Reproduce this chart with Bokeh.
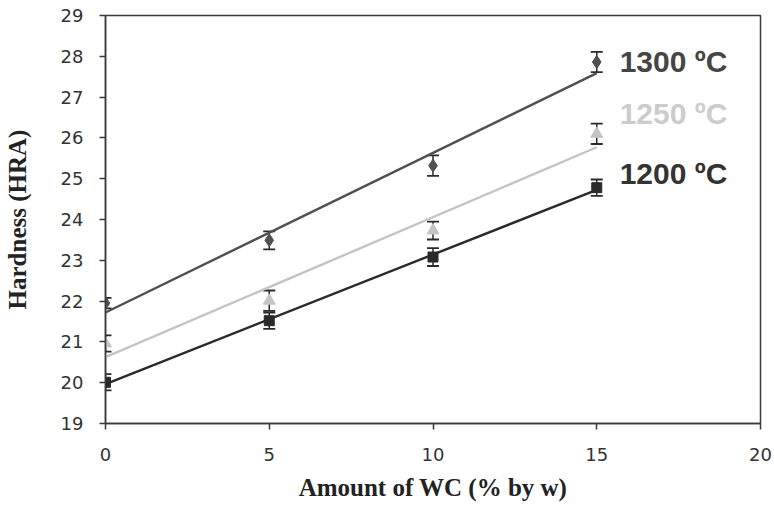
import numpy as np
from bokeh.plotting import figure
from bokeh.models import ColumnDataSource, Whisker, Label, FixedTicker, Range1d, TeeHead
from bokeh.embed import file_html
from bokeh.resources import INLINE

# ---- data ----
wc = [0, 5, 10, 15]
h1300 = [21.95, 23.49, 25.32, 27.86]
h1250 = [20.96, 22.01, 23.73, 26.10]
h1200 = [20.01, 21.52, 23.08, 24.78]
e1300 = [0.13, 0.22, 0.25, 0.25]
e1250 = [0.20, 0.25, 0.22, 0.25]
e1200 = [0.20, 0.20, 0.22, 0.20]
series_names = ["1300 ºC", "1250 ºC", "1200 ºC"]
x_ticks = [0, 5, 10, 15, 20]
y_ticks = list(range(19, 30))

p = figure(width=774, height=523, output_backend="svg", toolbar_location=None,
           x_range=Range1d(0, 20), y_range=Range1d(19, 29),
           min_border_left=105, min_border_top=15, min_border_right=14, min_border_bottom=100)
p.background_fill_color = "white"
p.border_fill_color = "white"
p.xgrid.visible = False
p.ygrid.visible = False
p.outline_line_color = "#3a3a3a"
p.outline_line_width = 1.5

for ax in (p.xaxis[0], p.yaxis[0]):
    ax.axis_line_color = "#3a3a3a"
    ax.axis_line_width = 1.5
    ax.major_tick_line_color = "#3a3a3a"
    ax.major_tick_line_width = 1.5
    ax.major_tick_out = 6
    ax.major_tick_in = 0
    ax.minor_tick_out = 0
    ax.minor_tick_in = 0
    ax.major_label_text_font = "DejaVu Sans"
    ax.major_label_text_font_size = "18px"
    ax.major_label_text_color = "#333333"
    ax.axis_label_text_font = "Liberation Serif"
    ax.axis_label_text_font_style = "bold"
    ax.axis_label_text_font_size = "25px"
    ax.axis_label_text_color = "#222222"

p.xaxis.ticker = FixedTicker(ticks=x_ticks)
p.yaxis.ticker = FixedTicker(ticks=y_ticks)
p.xaxis.axis_label = "Amount of WC (% by w)"
p.yaxis.axis_label = "Hardness (HRA)"
p.xaxis.major_label_standoff = 18
p.yaxis.major_label_standoff = 16
p.xaxis.axis_label_standoff = 10
p.yaxis.axis_label_standoff = 27

styles = [
    (h1300, e1300, "#505050", "#505050", "diamond", 13),
    (h1250, e1250, "#c4c4c4", "#c4c4c4", "triangle", 12),
    (h1200, e1200, "#2a2a2a", "#2a2a2a", "square", 10),
]

xs = np.array(wc, dtype=float)
for vals, errs, lc, mc, marker, size in styles:
    v = np.array(vals)
    e = np.array(errs)
    src = ColumnDataSource(dict(x=xs, y=v, lo=v - e, hi=v + e))
    # linear trend line
    slope, icpt = np.polyfit(xs, v, 1)
    p.line(x=[xs[0], xs[-1]], y=[icpt + slope * xs[0], icpt + slope * xs[-1]],
           line_color=lc, line_width=2.4)
    p.scatter(x="x", y="y", source=src, marker=marker, size=size,
              fill_color=mc, line_color=mc)
    w = Whisker(base="x", lower="lo", upper="hi", source=src,
                line_color="#2a2a2a", line_width=1.5,
                upper_head=TeeHead(size=12, line_color="#2a2a2a", line_width=1.8),
                lower_head=TeeHead(size=12, line_color="#2a2a2a", line_width=1.8))
    p.add_layout(w)

label_pos = [(15.7, 27.88, "#454545"), (15.7, 26.6, "#cccccc"), (15.7, 25.13, "#333333")]
for name, (lx, ly, col) in zip(series_names, label_pos):
    p.add_layout(Label(x=lx, y=ly, text=name, text_font="Liberation Sans",
                       text_font_style="bold", text_font_size="30px",
                       text_color=col, text_baseline="middle", text_align="left"))

open("out.html", "w").write(file_html(p, INLINE))
